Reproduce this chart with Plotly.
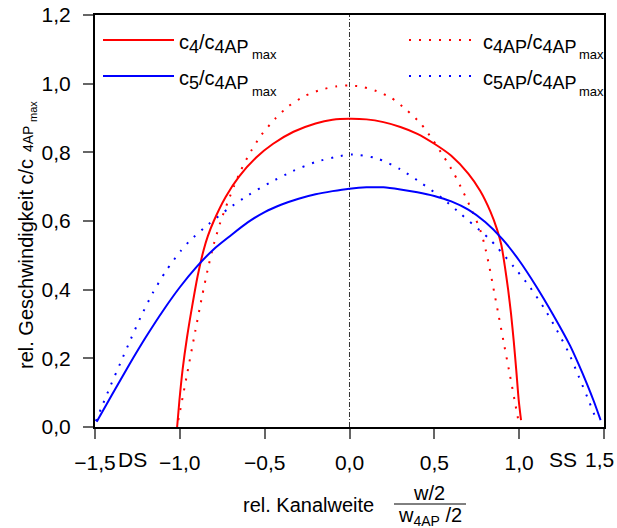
import plotly.graph_objects as go

# ---------------- data ----------------
c4_x = [-1.016, -1.002, -0.983, -0.958, -0.928, -0.895, -0.86, -0.835, -0.80, -0.73, -0.65, -0.55,
        -0.45, -0.33, -0.20, -0.10, 0.0, 0.10, 0.20, 0.30, 0.40, 0.50, 0.60, 0.70, 0.77, 0.83, 0.87,
        0.895, 0.915, 0.935, 0.952, 0.968, 0.983, 0.997, 1.011]
c4_y = [0.0, 0.08, 0.17, 0.26, 0.35, 0.44, 0.515, 0.556, 0.60, 0.67, 0.73, 0.785,
        0.825, 0.86, 0.884, 0.895, 0.898, 0.896, 0.888, 0.874, 0.854, 0.825, 0.79, 0.738, 0.688, 0.628, 0.575,
        0.53, 0.47, 0.40, 0.33, 0.25, 0.165, 0.08, 0.02]

c5_x = [-1.49, -1.40, -1.30, -1.20, -1.10, -1.00, -0.90, -0.80, -0.70, -0.60, -0.50, -0.40, -0.30,
        -0.20, -0.10, 0.0, 0.10, 0.20, 0.30, 0.40, 0.50, 0.60, 0.70, 0.80, 0.90, 1.00, 1.10, 1.20,
        1.30, 1.35, 1.40, 1.44, 1.48]
c5_y = [0.015, 0.094, 0.18, 0.262, 0.338, 0.407, 0.467, 0.518, 0.558, 0.596, 0.626, 0.648, 0.665,
        0.678, 0.687, 0.694, 0.698, 0.698, 0.692, 0.684, 0.673, 0.657, 0.633, 0.597, 0.548, 0.485, 0.41, 0.327,
        0.237, 0.183, 0.125, 0.075, 0.02]

c4ap_x = [-1.009, -0.96, -0.909, -0.87, -0.835, -0.80, -0.76, -0.72, -0.68, -0.64, -0.58, -0.52,
          -0.44, -0.36, -0.26, -0.17, -0.08, 0.0, 0.08, 0.16, 0.245, 0.337, 0.421, 0.488, 0.555,
          0.616, 0.667, 0.72, 0.769, 0.795, 0.822, 0.847, 0.88, 0.912, 0.946, 0.973, 0.995]
c4ap_y = [0.02, 0.147, 0.279, 0.378, 0.46, 0.532, 0.598, 0.652, 0.702, 0.748, 0.804, 0.85,
          0.897, 0.934, 0.965, 0.982, 0.992, 0.995, 0.99, 0.978, 0.959, 0.923, 0.883, 0.838, 0.788,
          0.738, 0.688, 0.632, 0.576, 0.532, 0.472, 0.408, 0.322, 0.238, 0.15, 0.078, 0.02]

c5ap_x = [-1.495, -1.464, -1.407, -1.348, -1.289, -1.229, -1.16, -1.081, -0.993, -0.944, -0.832,
          -0.714, -0.594, -0.468, -0.335, -0.199, -0.056, 0.017, 0.164, 0.298, 0.425, 0.543, 0.657,
          0.769, 0.822, 0.871, 0.971, 1.064, 1.146, 1.221, 1.289, 1.348, 1.404, 1.46]
c5ap_y = [0.017, 0.054, 0.122, 0.189, 0.256, 0.322, 0.39, 0.455, 0.514, 0.541, 0.59,
          0.636, 0.676, 0.712, 0.745, 0.772, 0.789, 0.794, 0.782, 0.751, 0.71, 0.668, 0.62,
          0.572, 0.549, 0.523, 0.465, 0.407, 0.347, 0.283, 0.219, 0.151, 0.084, 0.015]

center_x = [0, 0]
center_y = [0, 1.2]

x_tickvals = [-1.5, -1.0, -0.5, 0.0, 0.5, 1.0, 1.5]
x_ticktext = ["\u22121,5", "\u22121,0", "\u22120,5", "0,0", "0,5", "1,0", "1,5"]
y_tickvals = [0.0, 0.2, 0.4, 0.6, 0.8, 1.0, 1.2]
y_ticktext = ["0,0", "0,2", "0,4", "0,6", "0,8", "1,0", "1,2"]


def sub(t, size):
    return "<sub><span style='font-size:%dpx'>%s</span></sub>" % (size, t)


legend_labels = ["c" + sub("4", 18) + "/c" + sub("4AP", 18),
                 "c" + sub("5", 18) + "/c" + sub("4AP", 18),
                 "c" + sub("4AP", 18) + "/c" + sub("4AP", 18),
                 "c" + sub("5AP", 18) + "/c" + sub("4AP", 18)]
legend_subsub = "max"

# ---------------- layout helpers ----------------
W, H = 617, 528
L, R, T, B = 95, 13, 15, 101
PW, PH = W - L - R, H - T - B
FONT = "Liberation Sans, Arial, Helvetica, sans-serif"


def px(x):
    return (x - L) / PW


def py(y):
    return (H - B - y) / PH


def text(x, y, s, size, xanchor="center", angle=0):
    return dict(xref="paper", yref="paper", x=px(x), y=py(y), xanchor=xanchor, yanchor="middle",
                text=s, showarrow=False, textangle=angle, font=dict(size=size, color="black", family=FONT))


RED = "#ff0000"
BLUE = "#0000ff"
DOTS = "2px,8px"

fig = go.Figure()
fig.add_trace(go.Scatter(x=center_x, y=center_y, mode="lines",
                         line=dict(color="#333333", width=1, dash="5px,2px,1px,2px"),
                         showlegend=False, hoverinfo="skip"))
fig.add_trace(go.Scatter(x=c4ap_x, y=c4ap_y, mode="lines", line=dict(color=RED, width=2, dash=DOTS, shape="spline", smoothing=0.7), showlegend=False))
fig.add_trace(go.Scatter(x=c5ap_x, y=c5ap_y, mode="lines", line=dict(color=BLUE, width=2, dash=DOTS, shape="spline", smoothing=0.7), showlegend=False))
fig.add_trace(go.Scatter(x=c4_x, y=c4_y, mode="lines", line=dict(color=RED, width=2, shape="spline", smoothing=0.7), showlegend=False))
fig.add_trace(go.Scatter(x=c5_x, y=c5_y, mode="lines", line=dict(color=BLUE, width=2, shape="spline", smoothing=0.7), showlegend=False))

shapes = []
annotations = []

# legend samples
leg = [(103, 174, 40, RED, "solid", 177, 250, legend_labels[0]),
       (103, 174, 76, BLUE, "solid", 177, 250, legend_labels[1]),
       (409, 474, 40, RED, DOTS, 481, 577, legend_labels[2]),
       (409, 474, 76, BLUE, DOTS, 481, 577, legend_labels[3])]
for x0, x1, yy, col, dash, tx, mx, lab in leg:
    shapes.append(dict(type="line", xref="paper", yref="paper", x0=px(x0), x1=px(x1), y0=py(yy), y1=py(yy),
                       line=dict(color=col, width=2, dash=dash)))
    annotations.append(text(tx, yy + 4, lab, 20, xanchor="left"))
    annotations.append(text(mx, yy + 15, legend_subsub, 13, xanchor="left"))

# DS / SS labels and the last x tick label (drawn slightly inside the page edge, as in the original)
annotations.append(text(132, 459, "DS", 21))
annotations.append(text(563, 459, "SS", 21))
annotations.append(text(599, 459, x_ticktext[-1], 21))
axis_ticktext = x_ticktext[:-1] + [""]

# x axis title with fraction
annotations.append(text(308, 505, "rel. Kanalweite", 20))
annotations.append(text(429, 493, "w/2", 20))
annotations.append(text(430, 516, "w<sub>4AP</sub> /2", 20))
shapes.append(dict(type="line", xref="paper", yref="paper", x0=px(394), x1=px(466), y0=py(504), y1=py(504),
                   line=dict(color="black", width=1)))

# y axis title (rotated pieces)
annotations.append(text(26, 264, "rel. Geschwindigkeit c/c", 20, angle=-90))
annotations.append(text(28, 139, "4AP", 14, angle=-90))
annotations.append(text(33, 112, "max", 11, angle=-90))

fig.update_layout(
    width=W, height=H,
    margin=dict(l=L, r=R, t=T, b=B, pad=0, autoexpand=False),
    paper_bgcolor="white", plot_bgcolor="white",
    font=dict(family=FONT, size=21, color="black"),
    shapes=shapes, annotations=annotations,
    showlegend=False,
)
fig.update_xaxes(range=[-1.5, 1.5], tickvals=x_tickvals, ticktext=axis_ticktext, ticks="outside", ticklen=10,
                 tickcolor="#666666", tickwidth=1.5, showgrid=False, zeroline=False, showline=True, linecolor="black",
                 linewidth=2, mirror=True, ticklabelstandoff=6, tickfont=dict(size=21, family=FONT), automargin=False,
                 ticklabeloverflow="allow")
fig.update_yaxes(range=[0, 1.2], tickvals=y_tickvals, ticktext=y_ticktext, ticks="outside", ticklen=10,
                 tickcolor="#666666", tickwidth=1.5, showgrid=False, zeroline=False, showline=True, linecolor="black",
                 linewidth=2, mirror=True, ticklabelstandoff=8, tickfont=dict(size=21, family=FONT), automargin=False,
                 ticklabeloverflow="allow")

fig.write_html("out.html", config={"displayModeBar": False, "responsive": False})

with open("out.html", "r", encoding="utf-8") as f:
    html = f.read()
html = html.replace("<head>", "<head><style>html,body{margin:0;padding:0;overflow:hidden;}</style>", 1)
with open("out.html", "w", encoding="utf-8") as f:
    f.write(html)
